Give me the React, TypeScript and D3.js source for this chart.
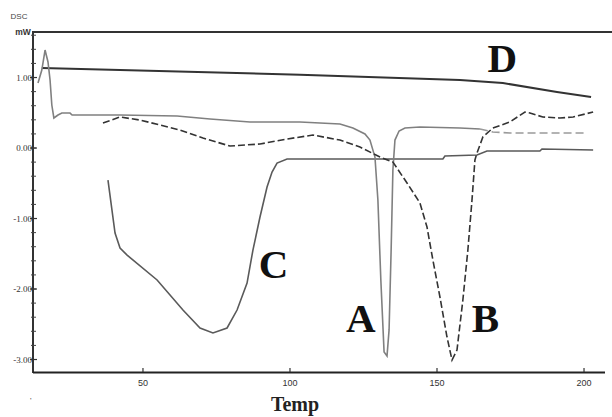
import React from "react";
import * as d3 from "d3";

const W = 612;
const H = 417;

// Axis ticks
const xTicks = [50, 100, 150, 200];
const yTicks = [1, 0, -1, -2, -3];
const yTickLabels = ["1.00", "0.00", "-1.00", "-2.00", "-3.00"];

// Curve D
const dT = [15.6, 42.2, 103.4, 157.8, 172.4, 190.8, 202.4];
const dV = [1.135, 1.106, 1.04, 0.965, 0.922, 0.794, 0.723];

// Curve A
const aT = [14.3, 15.6, 16.7, 17.7, 18.4, 19.0, 19.7, 21.1, 22.4, 25.2, 25.9, 42.2, 61.6, 72.8, 86.4, 103.4, 117.0, 121.4, 125.5, 127.2, 128.9, 129.9, 130.9, 132.0, 133.0, 133.7, 134.4, 135.0, 135.7, 137.1, 139.1, 144.2, 157.8, 164.6];
const aV = [0.922, 1.106, 1.39, 1.22, 0.965, 0.61, 0.426, 0.468, 0.496, 0.496, 0.468, 0.468, 0.454, 0.411, 0.369, 0.369, 0.34, 0.284, 0.199, 0.113, -0.128, -0.738, -1.872, -2.894, -2.95, -2.58, -1.447, -0.312, 0.113, 0.241, 0.284, 0.298, 0.284, 0.27];
const aTailT = [164.6, 169.0, 174.8, 201.0];
const aTailV = [0.27, 0.227, 0.213, 0.213];

// Curve B
const bT = [36.4, 42.2, 49.0, 62.6, 70.4, 79.6, 89.8, 99.0, 107.8, 117.0, 123.8, 130.6, 135.0, 139.8, 144.2, 146.6, 148.6, 151.0, 153.4, 155.1, 156.8, 158.8, 160.5, 161.9, 162.9, 163.6, 165.6, 169.0, 174.8, 179.9, 181.6, 186.0, 191.8, 196.3, 203.1];
const bV = [0.355, 0.44, 0.397, 0.255, 0.142, 0.028, 0.057, 0.128, 0.184, 0.113, 0.014, -0.128, -0.199, -0.496, -0.78, -1.121, -1.589, -2.113, -2.681, -3.007, -2.865, -2.156, -1.447, -0.738, -0.17, -0.071, 0.156, 0.284, 0.369, 0.511, 0.496, 0.44, 0.426, 0.44, 0.511];

// Curve C
const cT = [38.1, 40.5, 42.2, 44.6, 54.8, 63.6, 69.4, 73.8, 78.6, 82.0, 85.4, 87.4, 89.8, 92.2, 93.9, 95.6, 99.0, 152.0, 152.7, 163.6, 167.0, 185.0, 185.7, 203.1];
const cV = [-0.454, -1.206, -1.418, -1.518, -1.872, -2.298, -2.553, -2.624, -2.553, -2.298, -1.915, -1.447, -0.979, -0.553, -0.34, -0.213, -0.156, -0.156, -0.113, -0.099, -0.043, -0.043, -0.014, -0.028];

// Curve labels
const labelNames = ["D", "C", "A", "B"];
const labelT = [172.2, 94.4, 124.1, 166.5];
const labelV = [1.078, -1.84, -2.61, -2.61];

export default function App() {
  const x = d3.scaleLinear().domain([12.6, 207]).range([33, 604.6]);
  const y = d3.scaleLinear().domain([-3.18, 1.65]).range([372.2, 31.7]);

  const line = (ts: number[], vs: number[]) =>
    d3.line<number>().x((_, i) => x(ts[i])).y((v) => y(v)).curve(d3.curveLinear)(vs) || "";

  const minor = d3.range(-3.0, 1.61, 0.2).map((v) => Math.round(v * 10) / 10);

  const serif = "'Liberation Serif', 'DejaVu Serif', serif";
  const sans = "'Liberation Sans', Arial, sans-serif";

  return (
    <svg width={W} height={H} style={{ position: "absolute", left: 0, top: 0, background: "#fff" }}>
      <rect x={0} y={0} width={W} height={H} fill="#fff" />
      {/* frame */}
      <line x1={33} x2={612} y1={32} y2={32} stroke="#333" strokeWidth={2} />
      <line x1={33} x2={33} y1={31} y2={373} stroke="#333" strokeWidth={2} />
      <line x1={33} x2={605} y1={372.5} y2={372.5} stroke="#222" strokeWidth={2} />

      {/* y ticks */}
      {minor.map((v) => (
        <line key={"m" + v} x1={31} x2={36} y1={y(v)} y2={y(v)} stroke="#444" strokeWidth={1} />
      ))}
      {yTicks.map((v, i) => (
        <g key={"y" + v}>
          <line x1={30} x2={37} y1={y(v)} y2={y(v)} stroke="#333" strokeWidth={1.2} />
          <text x={32} y={y(v) + 3} fontSize={9} fontFamily={serif} textAnchor="end" fill="#333">
            {yTickLabels[i]}
          </text>
        </g>
      ))}
      {/* x ticks */}
      {xTicks.map((v) => (
        <g key={"x" + v}>
          <line x1={x(v)} x2={x(v)} y1={368} y2={372} stroke="#333" strokeWidth={1.2} />
          <text x={x(v)} y={386} fontSize={9} fontFamily={sans} textAnchor="middle" fill="#333">
            {v}
          </text>
        </g>
      ))}

      <text x={19} y={19} fontSize={8} fontFamily={sans} textAnchor="middle" fill="#444">DSC</text>
      <text x={23} y={35} fontSize={8.5} fontFamily={sans} fontWeight="bold" textAnchor="middle" fill="#333">mW</text>
      <text x={30} y={403} fontSize={8} fontFamily={sans} fill="#444">'</text>

      <text x={295} y={411} fontSize={20} fontFamily={serif} fontWeight="bold" textAnchor="middle" fill="#222">
        Temp
      </text>

      {/* curves */}
      <path d={line(dT, dV)} fill="none" stroke="#333" strokeWidth={2} />
      <path d={line(cT, cV)} fill="none" stroke="#5a5a5a" strokeWidth={1.6} />
      <path d={line(aT, aV)} fill="none" stroke="#808080" strokeWidth={1.6} />
      <path d={line(aTailT, aTailV)} fill="none" stroke="#9a9a9a" strokeWidth={1.6} strokeDasharray="8,4" />
      <path d={line(bT, bV)} fill="none" stroke="#333" strokeWidth={1.6} strokeDasharray="7,3" />

      {labelNames.map((n, i) => (
        <text key={n} x={x(labelT[i])} y={y(labelV[i])} fontSize={41} fontFamily={serif} fontWeight="bold" textAnchor="middle" fill="#111">
          {n}
        </text>
      ))}
    </svg>
  );
}
